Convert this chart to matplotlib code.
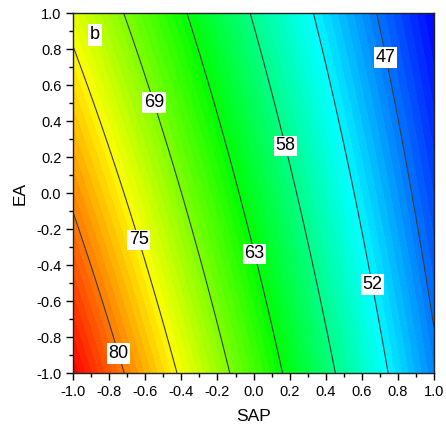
import numpy as np
import matplotlib
matplotlib.use('Agg')
import matplotlib.pyplot as plt
from matplotlib.colors import LinearSegmentedColormap
from matplotlib.ticker import MultipleLocator, FormatStrFormatter

plt.rcParams['font.family'] = ['Liberation Sans', 'DejaVu Sans']
plt.rcParams['axes.unicode_minus'] = False

# response surface model in coded units: intercept, SAP, EA, SAP*EA
coef = [62.05, -17.4, -4.45, 1.57]

# contour lines and their labels
line_levels = [46.8, 52.35, 57.9, 63.45, 69.0, 74.55, 80.1]
line_labels = ['47', '52', '58', '63', '69', '75', '80']

# label anchor points (SAP, EA)
label_pos = [(0.72, 0.75), (0.65, -0.51), (0.17, 0.26), (0.0, -0.34),
             (-0.56, 0.50), (-0.64, -0.26), (-0.745, -0.89)]

sap = np.linspace(-1, 1, 241)
ea = np.linspace(-1, 1, 241)
X, Y = np.meshgrid(sap, ea)
Z = coef[0] + coef[1] * X + coef[2] * Y + coef[3] * X * Y

cmap = LinearSegmentedColormap.from_list(
    'origin_rainbow', ['#0000ff', '#00ffff', '#00ff00', '#ffff00', '#ff0000'])

step = (line_levels[1] - line_levels[0]) / 8
fill_levels = np.arange(line_levels[0] - 8 * step, Z.max() + step, step)

fig = plt.figure(figsize=(4.46, 4.28), dpi=100)
ax = fig.add_axes([0.164, 0.1285, 0.809, 0.8411])

ax.contourf(X, Y, Z, levels=fill_levels, cmap=cmap,
            vmin=Z.min(), vmax=Z.max())
cs = ax.contour(X, Y, Z, levels=line_levels, colors='#3a3a3a', linewidths=0.8)

labels = ax.clabel(cs, inline=False, fontsize=13,
                   fmt=dict(zip(line_levels, line_labels)),
                   manual=label_pos, colors='black')
for t in labels:
    t.set_rotation(0)
    t.set_bbox(dict(facecolor='white', edgecolor='none', pad=1.2))
    t.set_zorder(5)

ax.text(-0.878, 0.878, 'b', fontsize=13, ha='center', va='center',
        bbox=dict(facecolor='white', edgecolor='none', pad=1.5), zorder=5)

ax.set_xlim(-1, 1)
ax.set_ylim(-1, 1)
ax.xaxis.set_major_locator(MultipleLocator(0.2))
ax.xaxis.set_minor_locator(MultipleLocator(0.1))
ax.yaxis.set_major_locator(MultipleLocator(0.2))
ax.yaxis.set_minor_locator(MultipleLocator(0.1))
ax.xaxis.set_major_formatter(FormatStrFormatter('%.1f'))
ax.yaxis.set_major_formatter(FormatStrFormatter('%.1f'))
ax.tick_params(which='major', direction='out', length=5, width=1, labelsize=10.5)
ax.tick_params(which='minor', direction='out', length=3, width=1)
for s in ax.spines.values():
    s.set_linewidth(1)
    s.set_color('#222')

ax.set_xlabel('SAP', fontsize=12.5, labelpad=7)
ax.set_ylabel('EA', fontsize=12.5, labelpad=6)

fig.savefig('out.png', dpi=100)
